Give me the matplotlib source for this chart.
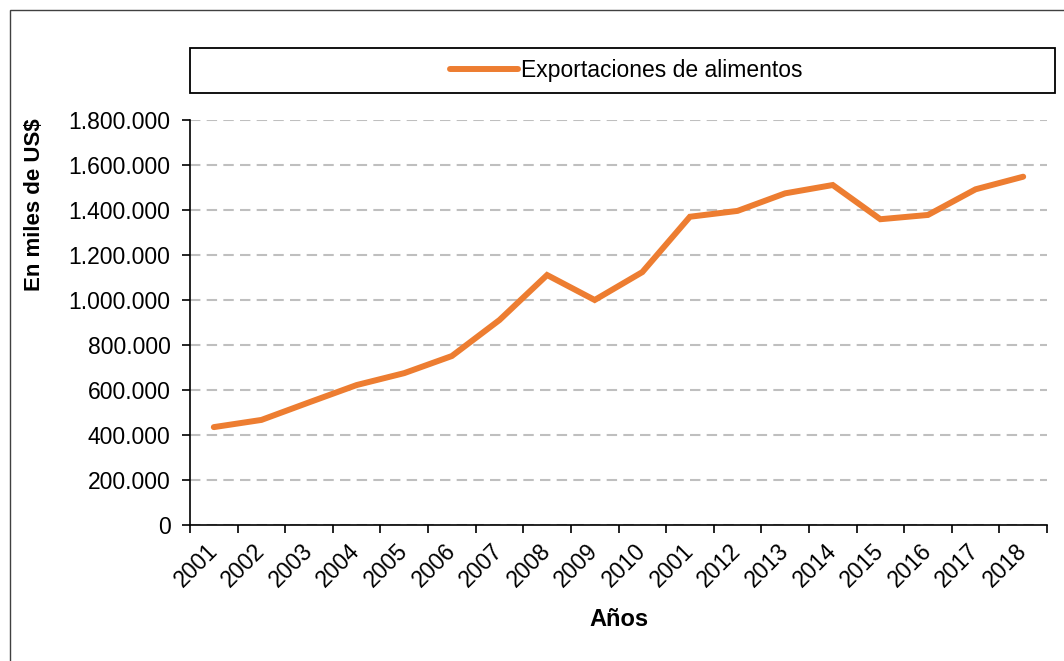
import matplotlib
matplotlib.use('Agg')
import matplotlib.pyplot as plt
from matplotlib.patches import Rectangle
from matplotlib.ticker import FuncFormatter, FixedLocator
import numpy as np

plt.rcParams['font.family'] = ['Liberation Sans', 'DejaVu Sans']

# Datos (miles de US$)
anios = ['2001', '2002', '2003', '2004', '2005', '2006', '2007', '2008', '2009',
         '2010', '2001', '2012', '2013', '2014', '2015', '2016', '2017', '2018']
exportaciones = [435000, 467000, 545000, 622000, 675000, 751000, 911000, 1111000,
                 1000000, 1124000, 1370000, 1396000, 1474000, 1511000, 1359000,
                 1378000, 1492000, 1548000]
serie = 'Exportaciones de alimentos'

W, H = 1064, 661
fig = plt.figure(figsize=(W / 100, H / 100), dpi=100)
ax = fig.add_axes([190 / W, 1 - 525 / H, 857 / W, 405 / H])

x = np.arange(len(anios))
ax.plot(x, exportaciones, color='#ED7D31', lw=4.3, solid_capstyle='round',
        solid_joinstyle='miter', label=serie, zorder=3)

ax.set_xlim(-0.5, len(anios) - 0.5)
ax.set_ylim(0, 1800000)
ax.set_yticks(np.arange(0, 1800001, 200000))
ax.yaxis.set_major_formatter(FuncFormatter(lambda v, p: f'{int(v):,}'.replace(',', '.')))
ax.grid(axis='y', color='#BFBFBF', lw=1.5, linestyle=(0, (5, 3)))
ax.set_axisbelow(True)

ax.set_xticks(x)
ax.set_xticklabels(anios, rotation=45, ha='right', va='center', rotation_mode='anchor')
ax.xaxis.set_minor_locator(FixedLocator(np.arange(-0.5, len(anios), 1)))
ax.tick_params(axis='x', which='major', length=0, pad=16, labelsize=16.5)
ax.tick_params(axis='x', which='minor', length=6, width=1.2, direction='out')
ax.tick_params(axis='y', length=6, width=1.2, pad=8, labelsize=16.5)

for s in ['top', 'right']:
    ax.spines[s].set_visible(False)
for s in ['left', 'bottom']:
    ax.spines[s].set_linewidth(1.2)

ax.set_xlabel('Años', fontsize=17, fontweight='bold')
ax.set_ylabel('En miles de US$', fontsize=16, fontweight='bold')
ax.xaxis.set_label_coords(0.5, (525 - 620) / 405)
ax.xaxis.label.set_va('center')
ax.yaxis.set_label_coords((35 - 190) / 857, (525 - 205) / 405)
ax.yaxis.label.set_va('center')

# recuadro de la leyenda
fig.add_artist(Rectangle((190 / W, 1 - 93 / H), 865 / W, 45 / H, transform=fig.transFigure,
                         fill=False, edgecolor='black', lw=1.3))
fig.legend(loc='center', bbox_to_anchor=(626 / W, 1 - 70.5 / H), frameon=False,
           fontsize=16.5, handlelength=3.0, handletextpad=0.1)

# borde exterior
fig.add_artist(Rectangle((10 / W, -0.05), 1.1, 1 - 10 / H + 0.05, transform=fig.transFigure,
                         fill=False, edgecolor='#404040', lw=1.0))

fig.savefig('out.png', dpi=100)
